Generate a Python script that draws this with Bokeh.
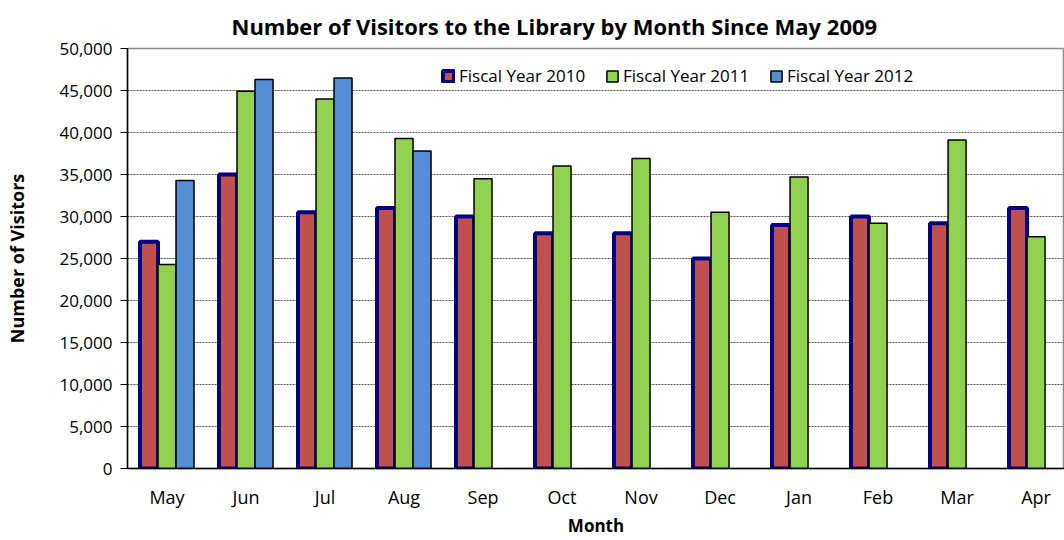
import math
from bokeh.plotting import figure
from bokeh.models import (ColumnDataSource, Range1d, FixedTicker, NumeralTickFormatter,
                          Legend, LegendItem, Title)
from bokeh.embed import file_html
from bokeh.resources import INLINE

months = ["May", "Jun", "Jul", "Aug", "Sep", "Oct", "Nov", "Dec", "Jan", "Feb", "Mar", "Apr"]
fy2010 = [27000, 35000, 30500, 31000, 30000, 28000, 28000, 25000, 29000, 30000, 29200, 31000]
fy2011 = [24300, 44900, 44000, 39300, 34500, 36000, 36900, 30500, 34700, 29200, 39100, 27600]
fy2012 = [34300, 46300, 46500, 37800, None, None, None, None, None, None, None, None]
series_names = ["Fiscal Year 2010", "Fiscal Year 2011", "Fiscal Year 2012"]
y_ticks = list(range(0, 50001, 5000))
chart_title = "Number of Visitors to the Library by Month Since May 2009"

FONT = "Open Sans"
pos = [i + 0.5 for i in range(len(months))]
bw = 0.228

def nz(v):
    return [float("nan") if x is None else x for x in v]

src = ColumnDataSource(dict(
    x=pos,
    x0=[p - bw for p in pos],
    x2=[p + bw for p in pos],
    a=fy2010, b=fy2011, c=nz(fy2012),
))

p = figure(width=1064, height=540, output_backend="svg", toolbar_location=None,
           x_range=Range1d(0, 11.86), y_range=Range1d(0, 50000),
           min_border_left=127, min_border_right=0, min_border_top=48, min_border_bottom=72)
p.background_fill_color = "white"
p.border_fill_color = "white"
p.outline_line_color = "#8c8c8c"
p.outline_line_width = 1.5

r1 = p.vbar(x="x0", top="a", width=bw, source=src, fill_color="#C0504D",
            line_color="#000080", line_width=4)
r2 = p.vbar(x="x", top="b", width=bw, source=src, fill_color="#92D050",
            line_color="black", line_width=1.5)
r3 = p.vbar(x="x2", top="c", width=bw, source=src, fill_color="#558ED5",
            line_color="black", line_width=1.5)

# axes
p.xaxis.ticker = FixedTicker(ticks=pos)
p.xaxis.major_label_overrides = {p_: m for p_, m in zip(pos, months)}
p.xaxis.major_tick_out = 0
p.xaxis.major_tick_in = 0
p.xaxis.minor_tick_out = 0
p.xaxis.minor_tick_in = 0
p.xaxis.axis_line_color = "black"
p.xaxis.axis_line_width = 1.5
p.xaxis.major_label_standoff = 16
p.xaxis.major_label_text_font = FONT
p.xaxis.major_label_text_font_size = "18px"
p.xaxis.major_label_text_color = "black"
p.xaxis.axis_label = "Month"
p.xaxis.axis_label_text_font = FONT
p.xaxis.axis_label_text_font_style = "bold"
p.xaxis.axis_label_text_font_size = "17px"
p.xaxis.axis_label_text_color = "black"
p.xaxis.axis_label_standoff = 2

p.yaxis.ticker = FixedTicker(ticks=y_ticks)
p.yaxis.formatter = NumeralTickFormatter(format="0,0")
p.yaxis.major_tick_out = 7
p.yaxis.major_tick_in = 0
p.yaxis.minor_tick_out = 0
p.yaxis.minor_tick_in = 0
p.yaxis.axis_line_color = "black"
p.yaxis.axis_line_width = 1.5
p.yaxis.major_label_standoff = 8
p.yaxis.major_label_text_font = FONT
p.yaxis.major_label_text_font_size = "17px"
p.yaxis.major_label_text_color = "black"
p.yaxis.axis_label = "Number of Visitors"
p.yaxis.axis_label_text_font = FONT
p.yaxis.axis_label_text_font_style = "bold"
p.yaxis.axis_label_text_font_size = "18px"
p.yaxis.axis_label_text_color = "black"
p.yaxis.axis_label_standoff = 27

p.xgrid.grid_line_color = None
p.ygrid.ticker = FixedTicker(ticks=y_ticks)
p.ygrid.grid_line_color = "#555555"
p.ygrid.grid_line_dash = "2 1"
p.ygrid.grid_line_width = 1

title = Title(text=chart_title, align="left", offset=104, text_font=FONT,
              text_font_style="bold", text_font_size="22px", text_color="black",
              standoff=16)
p.add_layout(title, "above")

legend = Legend(items=[LegendItem(label=series_names[0], renderers=[r1]),
                       LegendItem(label=series_names[1], renderers=[r2]),
                       LegendItem(label=series_names[2], renderers=[r3])],
                orientation="horizontal", location=(314, 381),
                glyph_width=14, glyph_height=14, label_standoff=4, label_width=146,
                spacing=0, padding=0, margin=0,
                label_text_font=FONT, label_text_font_size="17px",
                label_text_color="black",
                border_line_color=None, background_fill_alpha=0)
p.add_layout(legend, "center")

open("out.html", "w").write(file_html(p, INLINE))
